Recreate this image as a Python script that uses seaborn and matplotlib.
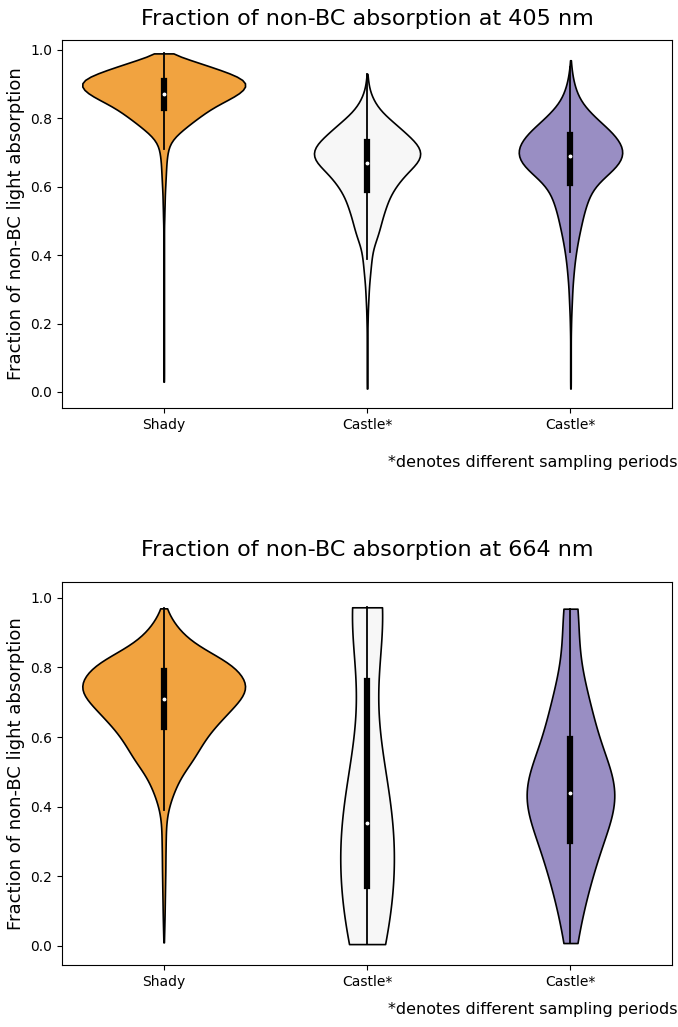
import numpy as np
import pandas as pd
import seaborn as sns
import matplotlib.pyplot as plt

plt.rcParams['font.family'] = ['DejaVu Sans']

# category keys (two different Castle sampling periods) and their tick labels
site_keys = ['Shady', 'Castle A', 'Castle B']
site_labels = ['Shady', 'Castle*', 'Castle*']
colors = ['#f1a340', '#f7f7f7', '#998ec3']

# binned observations: value levels and how many samples fall on each level
levels = [0.01, 0.03, 0.05, 0.07, 0.09, 0.11, 0.13, 0.15, 0.17, 0.19,
          0.21, 0.23, 0.25, 0.27, 0.29, 0.31, 0.33, 0.35, 0.37, 0.39,
          0.41, 0.43, 0.45, 0.47, 0.49, 0.51, 0.53, 0.55, 0.57, 0.59,
          0.61, 0.63, 0.65, 0.67, 0.69, 0.71, 0.73, 0.75, 0.77, 0.79,
          0.81, 0.83, 0.85, 0.87, 0.89, 0.91, 0.93, 0.95, 0.97, 0.99]

# 405 nm
shady_405 = [0, 1, 1, 1, 1, 1, 1, 1, 1, 1,
             1, 1, 1, 1, 1, 1, 1, 1, 1, 1,
             1, 1, 1, 1, 1, 2, 2, 3, 3, 4,
             5, 6, 7, 8, 10, 13, 20, 36, 60, 85,
             112, 140, 178, 218, 242, 243, 200, 140, 80, 15]
castle_a_405 = [1, 1, 1, 1, 1, 1, 1, 1, 1, 1,
                2, 2, 3, 4, 5, 6, 8, 10, 12, 14,
                17, 22, 31, 37, 43, 48, 55, 62, 70, 82,
                96, 114, 134, 158, 170, 167, 152, 128, 105, 80,
                55, 35, 22, 12, 6, 3, 1, 0, 0, 0]
castle_b_405 = [1, 1, 1, 1, 1, 1, 1, 1, 1, 2,
                2, 3, 4, 5, 6, 7, 9, 11, 13, 16,
                19, 23, 27, 32, 37, 42, 48, 55, 63, 75,
                92, 118, 145, 167, 178, 178, 168, 150, 128, 100,
                76, 53, 36, 24, 16, 10, 6, 3, 1, 0]

# 664 nm
shady_664 = [1, 1, 2, 2, 3, 3, 3, 4, 4, 4,
             5, 5, 5, 5, 6, 6, 6, 7, 9, 12,
             18, 25, 32, 42, 51, 66, 83, 94, 105, 117,
             131, 147, 168, 185, 205, 226, 238, 246, 230, 218,
             198, 162, 118, 85, 61, 43, 28, 16, 8, 0]
castle_a_664 = [0.005, 0.005, 0.005, 0.005, 0.02, 0.04, 0.07, 0.10, 0.13, 0.165,
                0.175, 0.20, 0.22, 0.24, 0.26, 0.28, 0.30, 0.32, 0.335, 0.345,
                0.36, 0.38, 0.40, 0.42, 0.45, 0.48, 0.52, 0.56, 0.62, 0.70,
                0.95, 0.96, 0.965, 0.97, 0.973, 0.973, 0.973, 0.973, 0.973, 0.973]
castle_b_664 = [0.008, 0.07, 0.12, 0.16, 0.19, 0.215, 0.235, 0.255, 0.275, 0.29,
                0.298, 0.303, 0.345, 0.37, 0.39, 0.40, 0.41, 0.418, 0.424, 0.429,
                0.433, 0.437, 0.443, 0.448, 0.455, 0.462, 0.47, 0.48, 0.495, 0.51,
                0.53, 0.56, 0.59, 0.61, 0.63, 0.65, 0.67, 0.69, 0.71, 0.74,
                0.79, 0.935, 0.96, 0.969]


def binned(counts):
    return np.repeat(levels, counts)


def frame(groups):
    parts = [pd.DataFrame({'site': key, 'frac': vals}) for key, vals in zip(site_keys, groups)]
    return pd.concat(parts, ignore_index=True)


df405 = frame([binned(shady_405), binned(castle_a_405), binned(castle_b_405)])
df664 = frame([binned(shady_664), castle_a_664, castle_b_664])

fig = plt.figure(figsize=(6.78, 10.27), dpi=100)
ax1 = fig.add_axes([0.0914, 0.6027, 0.9, 0.3583])
ax2 = fig.add_axes([0.0914, 0.0604, 0.9, 0.373])

panels = [(ax1, df405, 'Fraction of non-BC absorption at 405 nm', 0.7, 0.550, (-0.047, 1.029), 10.5),
          (ax2, df664, 'Fraction of non-BC absorption at 664 nm', 1.0, 0.0166, (-0.055, 1.046), 19)]

for ax, df, title, bw, note_y, ylim, pad in panels:
    sns.violinplot(data=df, x='site', y='frac', hue='site', order=site_keys,
                   hue_order=site_keys, palette=colors, saturation=1, cut=0,
                   inner='box', density_norm='area', common_norm=True,
                   bw_adjust=bw, linecolor='black', linewidth=1.2,
                   inner_kws=dict(box_width=4.5, whis_width=1.3, marker='.'),
                   legend=False, ax=ax)
    ax.set_ylim(*ylim)
    ax.set_xticks(range(3))
    ax.set_xticklabels(site_labels, fontsize=10)
    ax.tick_params(axis='y', labelsize=10)
    ax.set_xlabel('')
    ax.set_ylabel('Fraction of non-BC light absorption', fontsize=13)
    ax.set_title(title, fontsize=16, pad=pad)
    fig.text(0.999, note_y, '*denotes different sampling periods',
             ha='right', va='center', fontsize=11.5)

fig.savefig('out.png', dpi=100)
